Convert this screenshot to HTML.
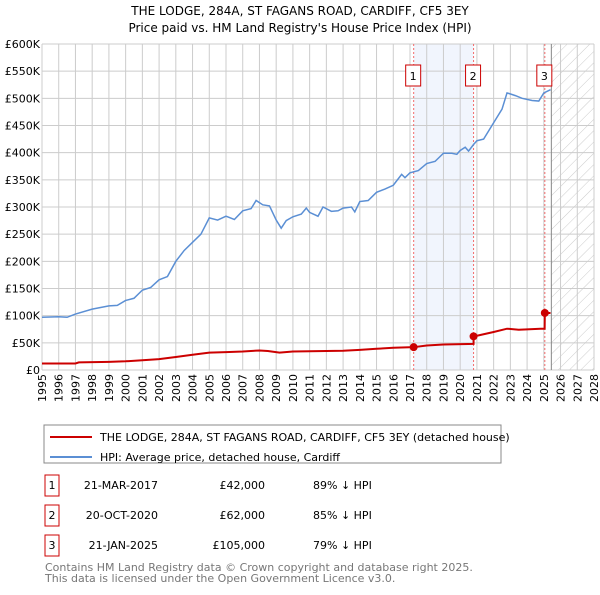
<!DOCTYPE html>
<html><head><meta charset="utf-8"><style>
body{margin:0;background:#fff;font-family:"Liberation Sans","DejaVu Sans",sans-serif;}
svg text{font-family:"DejaVu Sans","Liberation Sans",sans-serif;}
</style></head><body>
<svg id="c" width="600" height="590" xmlns="http://www.w3.org/2000/svg">
<defs><pattern id="hatch" width="8" height="8" patternUnits="userSpaceOnUse" patternTransform="rotate(45)"><line x1="0" y1="0" x2="0" y2="8" stroke="#ccc" stroke-width="1"/></pattern></defs>
<text x="300" y="15" text-anchor="middle" font-size="12">THE LODGE, 284A, ST FAGANS ROAD, CARDIFF, CF5 3EY</text>
<text x="300" y="32" text-anchor="middle" font-size="12">Price paid vs. HM Land Registry's House Price Index (HPI)</text>
<g id="grid"></g><g id="marks"></g><g id="axes"></g>
<rect x="44" y="425" width="457" height="38" fill="#fff" stroke="#888"/>
<line x1="50" y1="437" x2="92" y2="437" stroke="#cc0000" stroke-width="2"/>
<text x="100" y="441" font-size="11">THE LODGE, 284A, ST FAGANS ROAD, CARDIFF, CF5 3EY (detached house)</text>
<line x1="50" y1="457" x2="92" y2="457" stroke="#5b8fd4" stroke-width="2"/>
<text x="100" y="461" font-size="11">HPI: Average price, detached house, Cardiff</text>
<g font-size="11">
<rect x="45" y="475" width="14" height="21" fill="#fff" stroke="#cc0000"/><text x="52" y="489" text-anchor="middle">1</text>
<text x="158" y="489" text-anchor="end">21-MAR-2017</text><text x="265" y="489" text-anchor="end">£42,000</text><text x="313" y="489">89% ↓ HPI</text>
<rect x="45" y="505" width="14" height="21" fill="#fff" stroke="#cc0000"/><text x="52" y="519" text-anchor="middle">2</text>
<text x="158" y="519" text-anchor="end">20-OCT-2020</text><text x="265" y="519" text-anchor="end">£62,000</text><text x="313" y="519">85% ↓ HPI</text>
<rect x="45" y="535" width="14" height="21" fill="#fff" stroke="#cc0000"/><text x="52" y="549" text-anchor="middle">3</text>
<text x="158" y="549" text-anchor="end">21-JAN-2025</text><text x="265" y="549" text-anchor="end">£105,000</text><text x="313" y="549">79% ↓ HPI</text>
</g>
<text x="45" y="571" font-size="11" fill="#777">Contains HM Land Registry data © Crown copyright and database right 2025.</text>
<text x="45" y="582" font-size="11" fill="#777">This data is licensed under the Open Government Licence v3.0.</text>
</svg>
<script>
const hpiYears=[1995,1996,1996.5,1997,1998,1999,1999.5,2000,2000.5,2001,2001.5,2002,2002.5,2003,2003.5,2004,2004.5,2005,2005.5,2006,2006.5,2007,2007.5,2007.8,2008.2,2008.6,2009,2009.3,2009.6,2010,2010.5,2010.8,2011,2011.5,2011.8,2012.3,2012.7,2013,2013.5,2013.7,2014,2014.5,2015,2015.5,2016,2016.5,2016.7,2017,2017.5,2018,2018.5,2019,2019.5,2019.8,2020,2020.3,2020.5,2020.8,2021,2021.4,2022,2022.5,2022.8,2023.3,2023.7,2024.3,2024.7,2025,2025.4];
const hpiValues=[97,98,97,103,112,118,119,128,132,147,152,166,172,200,220,235,250,280,276,283,277,293,297,312,304,302,276,261,275,282,287,298,290,283,300,292,293,298,300,291,310,312,327,333,340,360,354,363,367,380,384,399,399,397,404,410,403,415,422,425,455,480,510,505,500,496,495,510,516];
const ppYears=[1995,1997,1997.2,1999,2000,2001,2002,2003,2004,2005,2006,2007,2008,2008.5,2009.2,2010,2011,2012,2013,2014,2015,2016,2017.22,2018,2019,2020.8,2020.8,2021,2022,2022.8,2023.5,2024.8,2025.05,2025.06,2025.4];
const ppValues=[12,12,14,15,16,18,20,24,28,32,33,34,36,35,32,34,34.5,35,35.5,37,39,41,42,45,47,48,62,63,70,76,74,76,76,105,105];
const saleYears=[2017.22,2020.8,2025.06];
const saleValues=[42,62,105];
const saleLabels=["1","2","3"];
const yTicks=[0,50,100,150,200,250,300,350,400,450,500,550,600];
const yTickLabels=["£0","£50K","£100K","£150K","£200K","£250K","£300K","£350K","£400K","£450K","£500K","£550K","£600K"];
const xTicks=[1995,1996,1997,1998,1999,2000,2001,2002,2003,2004,2005,2006,2007,2008,2009,2010,2011,2012,2013,2014,2015,2016,2017,2018,2019,2020,2021,2022,2023,2024,2025,2026,2027,2028];
const X0=42,X1=594,Y0=370,Y1=44;
const x=y=>X0+(y-1995)/(2028-1995)*(X1-X0);
const yv=v=>Y0-v/600*(Y0-Y1);
const NS="http://www.w3.org/2000/svg";
function mk(p,t,a){const e=document.createElementNS(NS,t);for(const k in a)e.setAttribute(k,a[k]);p.appendChild(e);return e;}
const G=document.getElementById('grid'),M=document.getElementById('marks'),A=document.getElementById('axes');
const sh=mk(G,'rect',{x:x(2017.22),y:Y1,width:x(2020.8)-x(2017.22),height:Y0-Y1,fill:'#eef3fc',opacity:0.8});


const ht=mk(G,'rect',{x:x(2025.45),y:Y1,width:X1-x(2025.45),height:Y0-Y1,fill:'url(#hatch)'});


xTicks.forEach(t=>{mk(G,'line',{x1:x(t),x2:x(t),y1:Y1,y2:Y0,stroke:'#ccc'});
 const tx=mk(A,'text',{x:0,y:0,'font-size':11,'text-anchor':'end',transform:`translate(${x(t)+4},374) rotate(-90)`});tx.textContent=t;
 
 });
yTicks.forEach((t,i)=>{mk(G,'line',{x1:X0,x2:X1,y1:yv(t),y2:yv(t),stroke:'#ccc'});
 const tx=mk(A,'text',{x:X0-2,y:yv(t)+4,'font-size':11,'text-anchor':'end'});tx.textContent=yTickLabels[i];
 
 });
mk(G,'line',{x1:x(2025.45),x2:x(2025.45),y1:Y1,y2:Y0,stroke:'#888'});
saleYears.forEach((s,i)=>{mk(M,'line',{x1:x(s),x2:x(s),y1:Y1,y2:Y0,stroke:'#f26b6b','stroke-dasharray':'2,2'});
 const r=mk(M,'rect',{x:x(s)-8,y:65,width:15,height:21,fill:'#fff',stroke:'#cc0000'});
 
 
 const t=mk(M,'text',{x:x(s)-0.5,y:80,'font-size':11,'text-anchor':'middle'});t.textContent=saleLabels[i];});
const hp=mk(M,'polyline',{points:hpiYears.map((y,i)=>x(y)+','+yv(hpiValues[i])).join(' '),fill:'none',stroke:'#5b8fd4','stroke-width':1.5});


const pp=mk(M,'polyline',{points:ppYears.map((y,i)=>x(y)+','+yv(ppValues[i])).join(' '),fill:'none',stroke:'#cc0000','stroke-width':2});


saleYears.forEach((s,i)=>{const d=mk(M,'circle',{cx:x(s),cy:yv(saleValues[i]),r:4,fill:'#cc0000'});
 
 });
</script>
</body></html>
